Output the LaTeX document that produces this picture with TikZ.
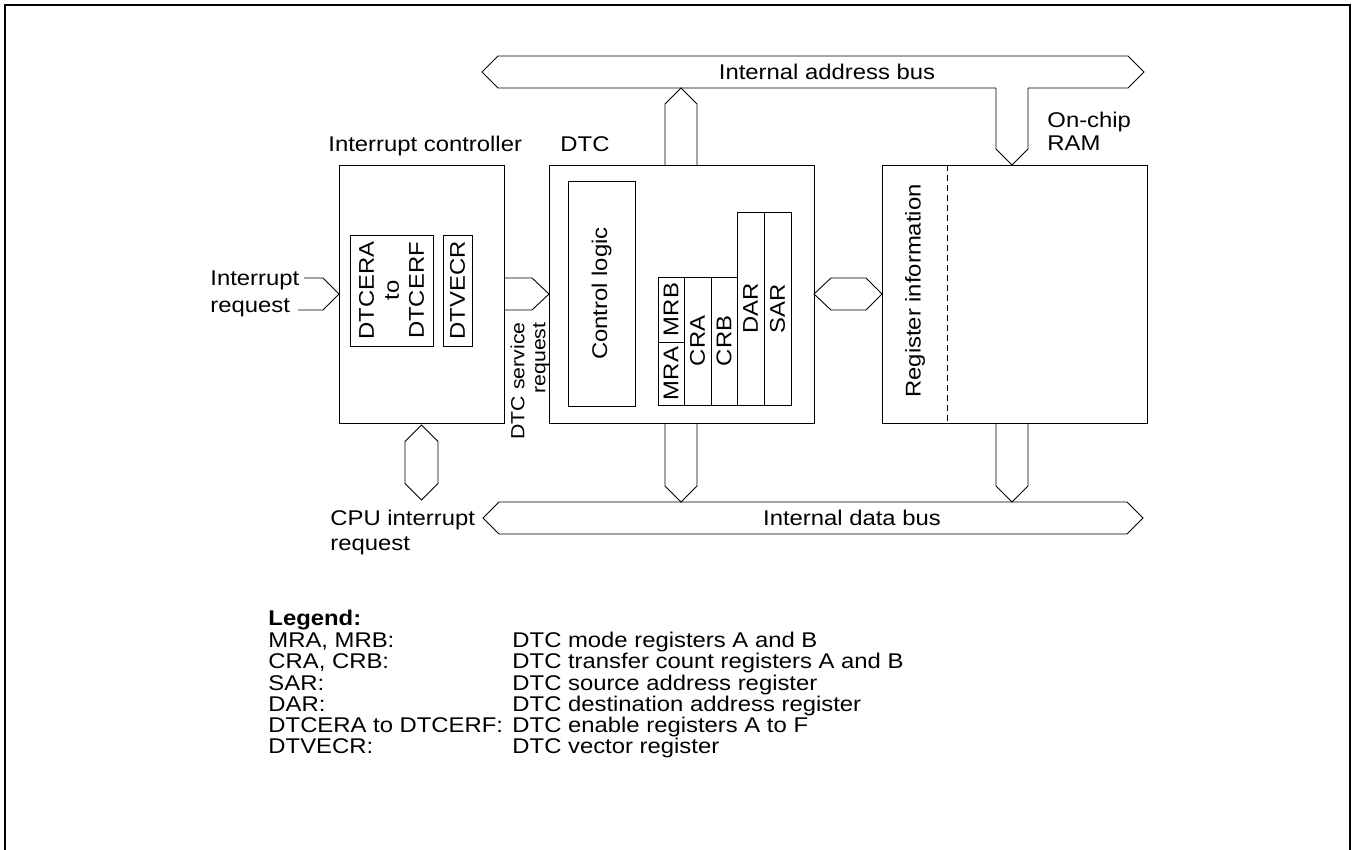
\documentclass[tikz,border=0pt]{standalone}
\usepackage{fontspec}
\setmainfont{Liberation Sans}[FakeStretch=1.12]
\usetikzlibrary{calc}
\newcommand{\diafont}{\fontsize{21.3}{25}\selectfont}

\begin{document}
\begin{tikzpicture}[
    x=1pt, y=-1pt,
    font=\diafont,
    line width=0.9pt,
    block/.style={rectangle, draw, outer sep=0pt, inner sep=0pt},
    regbox/.style={rectangle, draw, rotate=90, outer sep=0pt, inner sep=0pt},
    txt/.style={inner sep=0pt, align=left},
    bus/.style={draw, line join=miter},
  ]
  \useasboundingbox (0,0) rectangle (1356,850);
  % outer frame, open at the bottom
  \draw[line width=2pt] (5,850) -- (5,5) -- (1350,5) -- (1350,850);

  % main blocks
  \node[block, minimum width=165, minimum height=258] (ic) at (421.5,294) {};
  \node[block, minimum width=265, minimum height=258] (dtc) at (681.5,294) {};
  \node[block, minimum width=265, minimum height=258] (ram) at (1014.5,294) {};

  % registers of the interrupt controller
  \node[regbox, minimum width=111, minimum height=83, align=center] (dtcer) at (391.5,290.5) {DTCERA\\to\\DTCERF};
  \node[regbox, minimum width=111, minimum height=29] (dtvecr) at (457.5,290.5) {DTVECR};

  % control logic and DTC registers
  \node[regbox, minimum width=225, minimum height=67] (ctrl) at (601.5,293.5) {Control logic};
  \node[regbox, minimum width=65, minimum height=26] (mrb) at (671,309.5) {MRB};
  \node[regbox, minimum width=63, minimum height=26] (mra) at (671,373.5) {MRA};
  \node[regbox, minimum width=128, minimum height=27] (cra) at (697.5,341) {CRA};
  \node[regbox, minimum width=128, minimum height=26] (crb) at (724,341) {CRB};
  \node[regbox, minimum width=193, minimum height=27] (dar) at (750.5,308.5) {DAR};
  \node[regbox, minimum width=193, minimum height=27] (sar) at (777.5,308.5) {SAR};

  % on-chip RAM
  \draw[dash pattern=on 6pt off 4pt] ($(ram.north west)+(65,0)$) -- ($(ram.south west)+(65,0)$);
  \node[rotate=90, inner sep=0pt] (reginfo) at (915,291) {Register information};

  % block labels
  \node[txt, anchor=base west] (iclabel) at (328,152) {Interrupt controller};
  \node[txt, anchor=base west] (dtclabel) at (560,152) {DTC};
  \node[txt, anchor=west, font=\fontsize{21.3}{23}\selectfont] (ramlabel) at (1047,131.5) {On-chip\\RAM};
  \node[txt, anchor=west, font=\fontsize{21.3}{27}\selectfont] (irqlabel) at (210,294) {Interrupt\\request};
  \node[txt, anchor=west] (cpulabel) at (330,532) {CPU interrupt\\request};
  \node[txt, rotate=90, anchor=east, align=right, font=\fontsize{19}{21}\selectfont] (dsrlabel) at (530,322) {DTC service\\request};

  % internal buses
  \draw[bus] (482,72) -- (498,56) -- (1128,56) -- (1144,72) -- (1128,88) -- (1028,88)
    -- (1028,149) -- (1012,165) -- (996,149) -- (996,88) -- (498,88) -- cycle;
  \node (addrlabel) at (827,72) {Internal address bus};
  \draw[bus] (483,518) -- (499,502) -- (1127,502) -- (1143,518) -- (1127,534) -- (499,534) -- cycle;
  \node (datalabel) at (852,518) {Internal data bus};

  % connections of the blocks
  \draw[bus] (665,165) -- (665,104) -- (681,88) -- (697,104) -- (697,165);
  \draw[bus] (665,423) -- (665,486) -- (681,502) -- (697,486) -- (697,423);
  \draw[bus] (996,423) -- (996,486) -- (1012,502) -- (1028,486) -- (1028,423);
  \draw[bus] (421.5,425) -- (438,441.5) -- (438,483.5) -- (421.5,500) -- (405,483.5) -- (405,441.5) -- cycle;
  \draw[bus] (dtc.east) -- (831,278) -- (866,278) -- (ram.west) -- (866,310) -- (831,310) -- cycle;
  \draw[bus] (304,278) -- (323,278) -- (ic.west) -- (323,310) -- (298,310);
  \draw[bus] (504,278) -- (532,278) -- (dtc.west) -- (532,310) -- (504,310);

  % legend
  \node[txt, anchor=base west, font=\diafont\bfseries] (legend) at (268,625) {Legend:};
  \foreach \abbr/\desc [count=\i] in {{MRA, MRB:}/{DTC mode registers A and B},
      {CRA, CRB:}/{DTC transfer count registers A and B},
      SAR:/{DTC source address register},
      DAR:/{DTC destination address register},
      {DTCERA to DTCERF:}/{DTC enable registers A to F},
      DTVECR:/{DTC vector register}}{
    \node[txt, anchor=base west] (abbr\i) at (268,{647.5+21.25*(\i-1)}) {\abbr};
    \node[txt, anchor=base west] (desc\i) at (512,{647.5+21.25*(\i-1)}) {\desc};
  }
\end{tikzpicture}
\end{document}
